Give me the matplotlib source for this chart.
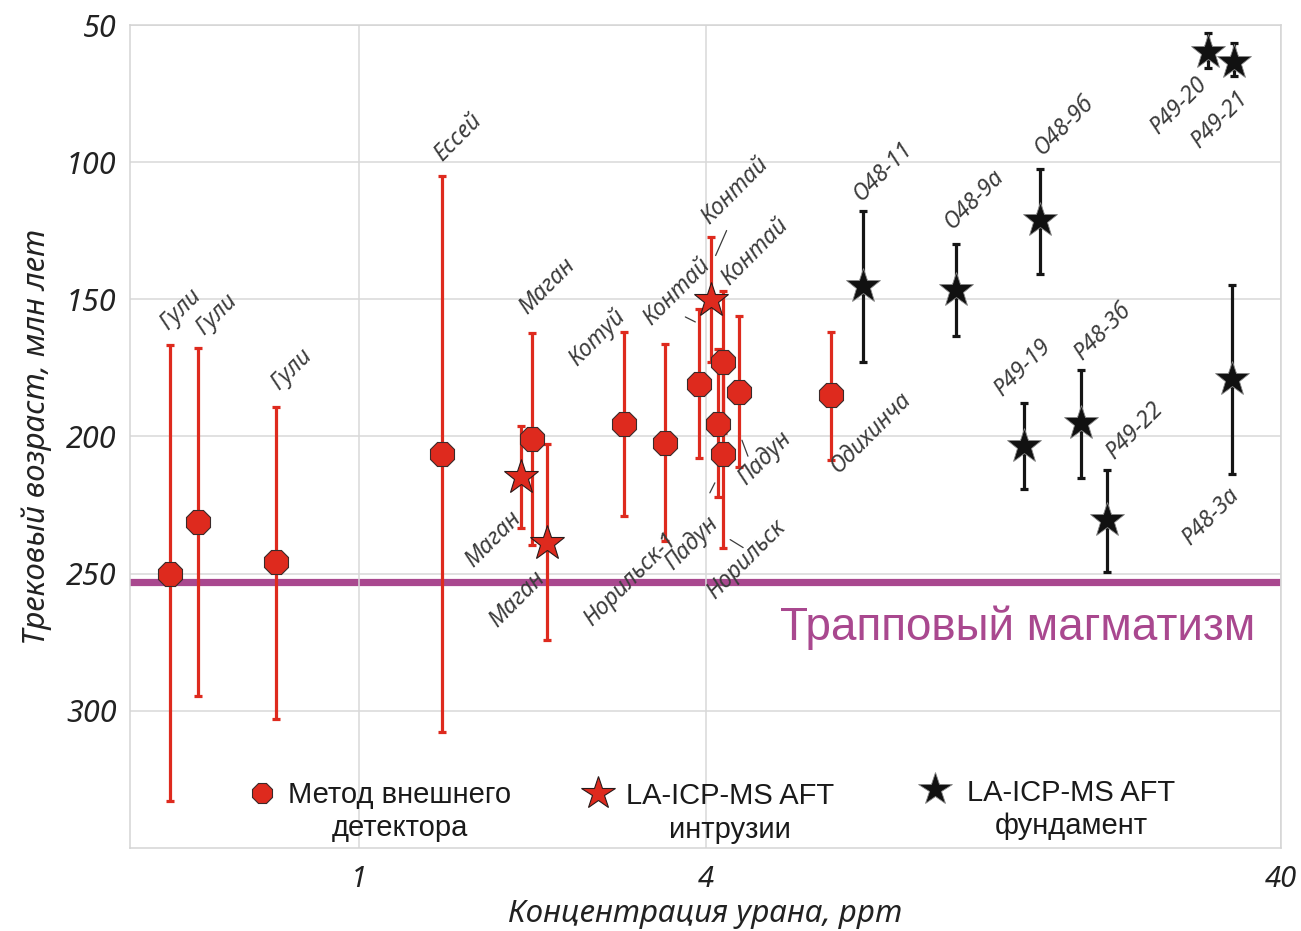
import matplotlib
matplotlib.use("Agg")
import matplotlib.pyplot as plt
import matplotlib.transforms as mtransforms

# --- data -----------------------------------------------------------------
# external detector method (red circles)
edm_names = ["Гули", "Гули", "Гули", "Ессей", "Маган", "Котуй", "Норильск-1",
             "Контай", "Контай", "Падун", "Падун", "Норильск", "Одихинча"]
edm_u = [0.469, 0.525, 0.717, 1.39, 2.0, 2.89, 3.40, 3.90, 4.29, 4.57, 4.20, 4.29, 6.6]
edm_age = [250.2, 231.2, 245.7, 206.3, 201.0, 195.4, 202.3, 180.7, 173.0, 183.7, 195.3, 206.3, 184.7]
edm_lo = [166.5, 167.7, 189.2, 105.2, 162.2, 161.9, 166.1, 153.5, 147.1, 156.2, 168.0, 172.1, 161.9]
edm_hi = [333.0, 294.5, 303.0, 307.9, 239.5, 229.0, 238.0, 208.0, 198.9, 211.2, 222.0, 240.5, 208.5]

# LA-ICP-MS AFT, intrusions (red stars)
intr_names = ["Маган", "Маган", "Контай"]
intr_u = [1.91, 2.12, 4.08]
intr_age = [214.8, 238.7, 150.1]
intr_lo = [196.2, 202.9, 127.1]
intr_hi = [233.2, 274.1, 172.9]

# LA-ICP-MS AFT, basement (black stars)
base_names = ["О48-11", "О48-9а", "О48-9б", "Р49-20", "Р49-21",
              "Р49-19", "Р48-3б", "Р49-22", "Р48-3а"]
base_u = [7.5, 10.9, 15.25, 29.9, 33.2, 14.3, 18.0, 19.9, 32.9]
base_age = [145.3, 146.5, 121.0, 59.7, 63.3, 203.5, 195.2, 230.4, 178.9]
base_lo = [117.7, 129.8, 102.5, 53.0, 56.7, 187.7, 175.6, 212.2, 144.6]
base_hi = [172.8, 163.2, 140.9, 65.8, 68.6, 219.3, 215.0, 249.4, 213.8]

trap_age = 253
y_ticks = [50, 100, 150, 200, 250, 300]
x_ticks = [1, 4, 40]

# --- label layout: (anchor, dx px, dy px downwards) ------------------------
edm_lbl = [("top", 11, -35), ("top", 18, -33), ("top", 16, -37), ("top", 17, -39),
           ("top", 15, -46), ("top", -27, 6), ("bottom", -35, 39), ("top", -22, -17),
           ("top", 32, -40), ("bottom", 26, -9), ("bottom", -26, 46), ("bottom", 23, 12),
           ("center", 40, 38)]
intr_lbl = [("bottom", -28, 12), ("center", -30, 57), ("top", 24, -46)]
base_lbl = [("top", 21, -39), ("top", 18, -44), ("top", 24, -43), ("bottom", -29, 38),
            ("bottom", -15, 44), ("top", -1, -35), ("top", 21, -38), ("top", 28, -39),
            ("bottom", -21, 42)]
# short leader lines: (series, index, anchor, x0, y0, x1, y1) in px
leaders = [("edm", 7, "top", -14, 8, -4, 13),
           ("intr", 2, "top", 5, 19, 16, -6),
           ("edm", 10, "bottom", -8, -4, -3, -14),
           ("edm", 9, "bottom", 3, -27, 9, -11),
           ("edm", 11, "bottom", 7, -8, 20, 0)]

RED = "#de2a1e"
PURPLE = "#a9488f"
LBL = "#3c3c3c"
ITAL = dict(family=["Noto Sans", "DejaVu Sans"], style="italic")
PX = 0.72  # px -> pt at 100 dpi

fig = plt.figure(figsize=(13.01, 9.31), dpi=100)
ax = fig.add_axes([0.1002, 0.0892, 0.8844, 0.8839])
ax.set_xscale("log")
ax.set_xlim(0.4, 40)
ax.set_ylim(350, 50)

ax.set_yticks(y_ticks)
ax.set_yticklabels([str(v) for v in y_ticks], fontsize=22, color="#222222", **ITAL)
ax.set_xticks(x_ticks)
ax.set_xticklabels([str(v) for v in x_ticks], fontsize=21, color="#222222", **ITAL)
ax.minorticks_off()
ax.tick_params(axis="y", length=0, pad=10)
ax.tick_params(axis="x", length=0, pad=12)
ax.grid(True, color="#d9d9d9", lw=1.1, zorder=0)
for s in ax.spines.values():
    s.set_color("#d4d4d4")
    s.set_linewidth(1.1)

ax.set_ylabel("Трековый возраст, млн лет", fontsize=22.5, color="#222222", labelpad=10, **ITAL)
ax.set_xlabel("Концентрация урана, ppm", fontsize=22.5, color="#222222", labelpad=4, **ITAL)

ax.axhline(trap_age, color=PURPLE, lw=5.2, zorder=1)
ax.text(0.7715, 0.2673, "Трапповый магматизм", transform=ax.transAxes, fontsize=33,
        color=PURPLE, ha="center", va="center", family="Liberation Sans")


def err(age, lo, hi):
    return [[a - l for a, l in zip(age, lo)], [h - a for a, h in zip(age, hi)]]


ax.errorbar(edm_u, edm_age, yerr=err(edm_age, edm_lo, edm_hi), fmt="none",
            ecolor=RED, elinewidth=2.3, capsize=3.2, capthick=2.3, zorder=3)
ax.errorbar(intr_u, intr_age, yerr=err(intr_age, intr_lo, intr_hi), fmt="none",
            ecolor=RED, elinewidth=2.3, capsize=3.2, capthick=2.3, zorder=3)
ax.errorbar(base_u, base_age, yerr=err(base_age, base_lo, base_hi), fmt="none",
            ecolor="#151515", elinewidth=2.3, capsize=3.2, capthick=2.3, zorder=3)

ax.plot(edm_u, edm_age, ls="none", marker="8", ms=18.5, mfc=RED, mec="#3a2a2a",
        mew=0.8, zorder=5)
ax.plot(intr_u, intr_age, ls="none", marker="*", ms=26, mfc=RED, mec="#2a1a1a",
        mew=0.8, zorder=5)
ax.plot(base_u, base_age, ls="none", marker="*", ms=26, mfc="#111111", mec="#888888",
        mew=0.6, zorder=5)

series = {
    "edm": (edm_names, edm_u, edm_age, edm_lo, edm_hi, edm_lbl),
    "intr": (intr_names, intr_u, intr_age, intr_lo, intr_hi, intr_lbl),
    "base": (base_names, base_u, base_age, base_lo, base_hi, base_lbl),
}


def anchor_y(kind, age, lo, hi):
    return {"top": lo, "bottom": hi, "center": age}[kind]


for key, (names, u, age, lo, hi, lbl) in series.items():
    for i, name in enumerate(names):
        kind, dx, dy = lbl[i]
        ax.annotate(name, (u[i], anchor_y(kind, age[i], lo[i], hi[i])),
                    xytext=(dx * PX, -dy * PX), textcoords="offset points",
                    rotation=45, rotation_mode="anchor", ha="center", va="center",
                    fontsize=16.5, color=LBL, zorder=6, **ITAL)

for key, i, kind, x0, y0, x1, y1 in leaders:
    names, u, age, lo, hi, lbl = series[key]
    tr = mtransforms.offset_copy(ax.transData, fig=fig, x=x0 * PX, y=-y0 * PX, units="points")
    ax.annotate("", (u[i], anchor_y(kind, age[i], lo[i], hi[i])), xycoords=tr,
                xytext=((x1 - x0) * PX, -(y1 - y0) * PX), textcoords="offset points",
                arrowprops=dict(arrowstyle="-", shrinkA=0, shrinkB=0, lw=0.9, color=LBL))

# legend, drawn by hand to keep the marker on the first text line
LEG = dict(fontsize=21, color="#1a1a1a", ha="center", va="center", linespacing=1.25,
           multialignment="center", family=["Liberation Sans Narrow", "Liberation Sans"])
ax.plot([0.1145], [0.0668], transform=ax.transAxes, marker="8", ms=16, mfc=RED,
        mec="#3a2a2a", mew=0.8, clip_on=False)
ax.text(0.2344, 0.0445, "Метод внешнего\nдетектора", transform=ax.transAxes, **LEG)
ax.plot([0.4064], [0.0668], transform=ax.transAxes, marker="*", ms=25, mfc=RED,
        mec="#2a1a1a", mew=0.8, clip_on=False)
ax.text(0.5212, 0.0425, "LA-ICP-MS AFT\nинтрузии", transform=ax.transAxes, **LEG)
ax.plot([0.6993], [0.0717], transform=ax.transAxes, marker="*", ms=25, mfc="#111111",
        mec="#888888", mew=0.6, clip_on=False)
ax.text(0.8175, 0.0470, "LA-ICP-MS AFT\nфундамент", transform=ax.transAxes, **LEG)

fig.savefig("out.png", dpi=100)
